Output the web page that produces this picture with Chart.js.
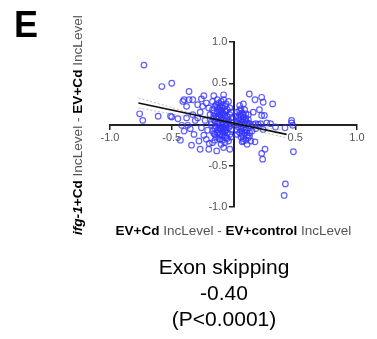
<!DOCTYPE html>
<html><head><meta charset="utf-8">
<script src="https://cdn.jsdelivr.net/npm/chart.js@4/dist/chart.umd.min.js"></script>
<style>html,body{margin:0;padding:0;background:#fff}#wrap{width:377px;height:339px;position:relative}</style>
</head><body><div id="wrap"><canvas id="c" width="377" height="339"></canvas></div>
<script>
// x: EV+Cd - EV+control IncLevel ; y: ifg-1+Cd - EV+Cd IncLevel
const pointsX = [
-0.725,-0.58,-0.50,-0.36,-0.76,-0.735,-0.61,-0.51,-0.50,-0.42,-0.43,-0.37,-0.40,-0.36,-0.33,-0.34,-0.41,-0.38,-0.33,-0.31,-0.38,-0.45,-0.40,-0.32,-0.35,
-0.26,-0.28,-0.24,-0.21,-0.196,-0.16,-0.136,-0.27,-0.25,-0.22,-0.20,-0.29,-0.23,-0.19,-0.17,-0.18,-0.26,-0.22,-0.17,-0.15,-0.16,-0.24,-0.29,-0.20,-0.27,
-0.13,-0.12,-0.10,-0.08,-0.11,-0.09,-0.07,-0.05,-0.13,-0.11,-0.09,-0.07,-0.05,-0.03,-0.12,-0.10,-0.08,-0.06,-0.04,-0.02,-0.13,-0.11,-0.09,-0.07,-0.05,-0.03,-0.12,-0.10,-0.08,-0.06,-0.04,-0.02,-0.13,-0.11,-0.09,-0.07,-0.05,-0.03,-0.12,-0.09,-0.06,-0.04,-0.10,-0.07,-0.15,-0.14,-0.01,-0.02,-0.08,-0.06,-0.04,-0.14,-0.02,-0.08,-0.05,-0.09,-0.11,-0.03,
-0.17,-0.16,-0.15,-0.14,-0.12,-0.10,-0.08,-0.06,-0.18,-0.16,-0.14,-0.12,-0.10,-0.08,-0.06,-0.04,-0.17,-0.15,-0.13,-0.11,-0.09,-0.07,-0.05,-0.16,-0.14,-0.12,-0.10,-0.08,-0.06,-0.15,-0.13,-0.11,-0.09,-0.07,
0.05,0.08,0.128,0.174,0.228,0.317,0.21,0.228,0.25,0.03,0.05,0.07,0.04,0.06,0.08,0.10,0.03,0.05,0.07,0.09,0.11,0.13,0.04,0.06,0.08,0.10,0.12,0.14,0.16,0.18,0.20,0.22,0.05,0.07,0.09,0.11,0.13,0.08,0.10,0.12,0.14,0.174,0.255,0.228,0.236,0.417,0.47,0.48,0.485,0.42,0.41,0.47,0.30,0.27,0.34,0.16,0.06,0.12,0.15,0.03,0.18,0.11,0.07,0.24,0.02,0.09,-0.03,0.24,
0.04,0.06,0.08,0.10,0.05,0.07,0.09,0.11,0.03,0.06,0.09,0.12,0.05,0.08,0.10,0.13,0.04,0.07
];
const pointsY = [
0.72,0.46,0.50,0.40,0.13,0.05,0.10,0.10,0.09,-0.01,-0.19,-0.01,0.30,0.30,0.30,-0.25,0.28,0.22,0.12,0.05,0.08,0.07,-0.08,-0.12,-0.05,
0.31,-0.20,-0.13,-0.07,-0.23,-0.11,-0.32,0.15,0.22,0.26,0.20,0.08,0.05,0.12,0.28,0.03,-0.04,-0.18,-0.22,0.22,0.35,0.35,0.24,-0.30,-0.30,
0.30,0.26,0.28,0.30,0.22,0.20,0.22,0.18,0.15,0.12,0.14,0.11,0.09,0.12,0.07,0.05,0.06,0.04,0.05,0.03,0.02,0.00,0.01,-0.01,0.00,-0.02,-0.04,-0.06,-0.05,-0.07,-0.04,-0.06,-0.10,-0.12,-0.09,-0.13,-0.10,-0.12,-0.17,-0.19,-0.16,-0.20,-0.24,-0.22,-0.05,0.10,0.08,0.15,0.36,0.25,0.28,-0.15,-0.15,-0.28,0.02,-0.02,0.17,0.20,
0.18,0.10,0.04,-0.02,0.19,0.16,0.13,0.16,0.00,0.06,0.07,0.03,-0.02,0.02,-0.03,0.01,-0.08,-0.12,-0.07,-0.05,-0.14,-0.08,-0.17,0.14,0.24,0.10,0.09,-0.10,0.07,-0.19,0.21,-0.18,0.24,0.16,
0.23,0.25,0.37,0.30,0.33,0.25,0.18,0.11,0.11,0.15,0.12,0.14,0.08,0.06,0.09,0.07,0.03,0.01,0.03,0.00,0.02,0.01,-0.03,-0.05,-0.03,-0.06,-0.04,-0.02,0.00,0.01,0.00,0.01,-0.10,-0.12,-0.10,-0.13,-0.10,-0.17,-0.19,-0.16,-0.20,-0.21,-0.30,-0.35,-0.42,-0.04,0.02,-0.01,-0.33,-0.72,-0.86,0.05,0.01,0.02,-0.03,0.15,0.19,0.12,-0.08,-0.07,-0.05,-0.24,-0.21,-0.06,0.10,0.18,-0.30,0.27,
0.05,0.10,0.12,0.04,-0.01,0.00,0.05,-0.08,-0.12,-0.15,-0.07,0.06,0.17,-0.20,0.13,-0.14,0.01,-0.08
];
const fitX = [-0.77, 0.43];
const fitY = [0.26, -0.12];
const ciX = [-0.77, -0.15, 0.43];
const ciUpperY = [0.32, 0.07, -0.08];
const ciLowerY = [0.20, 0.03, -0.16];
const tickValues = [-1.0, -0.5, 0.0, 0.5, 1.0];
const xTitleParts = [["EV+Cd", "bold"], [" IncLevel - ", "normal"], ["EV+control", "bold"], [" IncLevel", "normal"]];
const yTitleParts = [["ifg-1", "italic bold"], ["+Cd", "bold"], [" IncLevel - ", "normal"], ["EV+Cd", "bold"], [" IncLevel", "normal"]];
const panelLabel = "E";
const captionLines = ["Exon skipping", "-0.40", "(P<0.0001)"];

const FONT = "'Liberation Sans', Arial, sans-serif";
const scatter = pointsX.map((x, i) => ({x, y: pointsY[i]}));
const toXY = (xs, ys) => xs.map((x, i) => ({x, y: ys[i]}));

const textPlugin = {
  id: 'texts',
  afterDraw(chart) {
    const ctx = chart.ctx;
    ctx.save();
    ctx.fillStyle = '#000';
    ctx.textBaseline = 'alphabetic';
    ctx.textAlign = 'left';
    ctx.font = "bold 36px " + FONT;
    ctx.fillText(panelLabel, 14, 37);

    function drawParts(parts, targetWidth) {
      let total = 0;
      parts.forEach(p => { ctx.font = p[1] + " 10px " + FONT; total += ctx.measureText(p[0]).width; });
      const size = 10 * targetWidth / total;
      let x = -targetWidth / 2;
      parts.forEach(p => {
        ctx.font = p[1] + " " + size.toFixed(2) + "px " + FONT;
        ctx.fillStyle = p[1] === 'normal' ? '#555' : '#000';
        ctx.fillText(p[0], x, 0);
        x += ctx.measureText(p[0]).width;
      });
    }
    ctx.save();
    ctx.translate(233.5, 235);
    drawParts(xTitleParts, 236);
    ctx.restore();
    ctx.save();
    ctx.translate(82, 125);
    ctx.rotate(-Math.PI / 2);
    drawParts(yTitleParts, 220);
    ctx.restore();

    ctx.fillStyle = '#000';
    ctx.textAlign = 'center';
    ctx.font = "21px " + FONT;
    captionLines.forEach((t, i) => ctx.fillText(t, 224, 274 + i * 26));
    ctx.restore();
  }
};

new Chart(document.getElementById('c'), {
  type: 'scatter',
  data: {
    datasets: [
      { data: scatter, pointStyle: 'circle', pointRadius: 2.8, borderColor: 'rgba(50,50,255,0.78)', backgroundColor: 'rgba(0,0,0,0)', borderWidth: 1.2, order: 2 },
      { type: 'line', data: toXY(ciX, ciUpperY), borderColor: 'rgba(160,160,160,0.7)', borderWidth: 1, borderDash: [2, 2], pointRadius: 0, tension: 0.4, order: 1 },
      { type: 'line', data: toXY(ciX, ciLowerY), borderColor: 'rgba(160,160,160,0.7)', borderWidth: 1, borderDash: [2, 2], pointRadius: 0, tension: 0.4, order: 1 },
      { type: 'line', data: toXY(fitX, fitY), borderColor: '#111', borderWidth: 1.6, pointRadius: 0, order: 0 }
    ]
  },
  options: {
    responsive: false,
    animation: false,
    events: [],
    layout: { padding: { left: 110, right: 20, top: 42, bottom: 132 } },
    plugins: { legend: { display: false }, tooltip: { enabled: false }, title: { display: false } },
    scales: {
      x: {
        type: 'linear', min: -1, max: 1,
        position: { y: 0 },
        afterFit: s => { s.height = 0; },
        afterBuildTicks: s => { s.ticks = tickValues.map(v => ({value: v})); },
        grid: { drawOnChartArea: false, drawTicks: true, tickLength: 4, color: '#222', lineWidth: 1.5 },
        border: { color: '#222', width: 2 },
        ticks: { color: '#555', font: { size: 11, family: FONT }, padding: 3, callback: v => v === 0 ? '' : v.toFixed(1) }
      },
      y: {
        type: 'linear', min: -1, max: 1,
        position: { x: 0 },
        afterFit: s => { s.width = 0; },
        afterBuildTicks: s => { s.ticks = tickValues.map(v => ({value: v})); },
        grid: { drawOnChartArea: false, drawTicks: true, tickLength: 4, color: '#222', lineWidth: 1.5 },
        border: { color: '#222', width: 2 },
        ticks: { color: '#555', font: { size: 11, family: FONT }, padding: 2, callback: v => v === 0 ? '' : v.toFixed(1) + '  ' }
      }
    }
  },
  plugins: [textPlugin]
});
</script></body></html>
